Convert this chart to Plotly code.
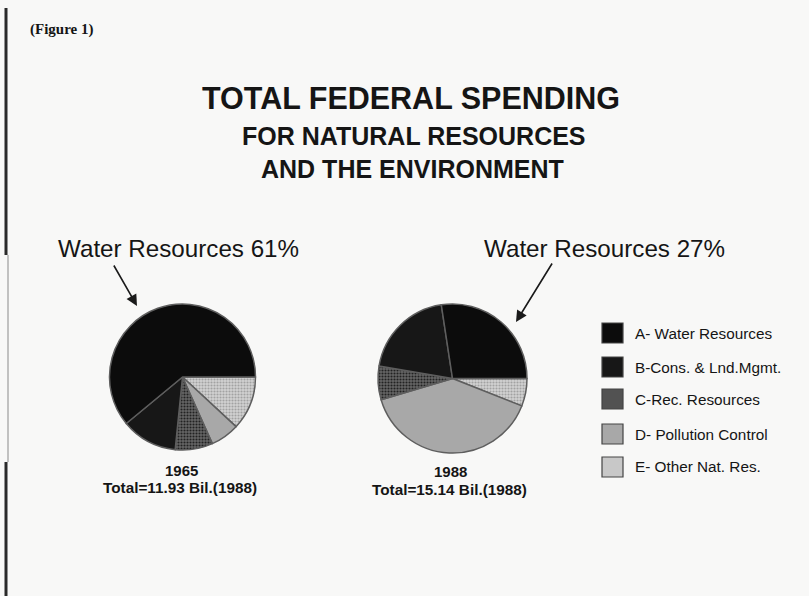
import plotly.graph_objects as go

# ---- data ----
categories = ["A- Water Resources", "B-Cons. & Lnd.Mgmt.", "C-Rec. Resources",
              "D- Pollution Control", "E- Other Nat. Res."]
share_1965 = [61.0, 12.4, 8.3, 6.4, 11.9]
share_1988 = [27.4, 19.9, 7.3, 39.4, 6.0]
years = ["1965", "1988"]
totals = ["Total=11.93 Bil.(1988)", "Total=15.14 Bil.(1988)"]
water_labels = ["Water Resources 61%", "Water Resources 27%"]
slice_colors = ["#0c0c0c", "#171717", "#525252", "#a8a8a8", "#c8c8c8"]
pattern_shapes = ["", "", ".", "", "."]
pattern_fg = ["#0c0c0c", "#171717", "#222222", "#a8a8a8", "#a2a2a2"]
pattern_bg = ["#0c0c0c", "#171717", "#656565", "#a8a8a8", "#d2d2d2"]

W, H = 809, 596
def px(x):
    return x / W
def py(y):
    return 1 - y / H

FONT = "Liberation Sans, Arial, Helvetica, sans-serif"
INK = "#151515"

fig = go.Figure()

# slices drawn clockwise from 3 o'clock in reverse order == counterclockwise A..E
pie_boxes = [((109.5, 255.5), (304, 450)), ((378, 527), (304, 453))]
for vals, (xb, yb) in zip([share_1965, share_1988], pie_boxes):
    fig.add_trace(go.Pie(
        labels=categories[::-1], values=vals[::-1], sort=False,
        direction="clockwise", rotation=90,
        textinfo="none", hoverinfo="label+percent",
        marker=dict(colors=slice_colors[::-1],
                    line=dict(color="#5e5e5e", width=1.5),
                    pattern=dict(shape=pattern_shapes[::-1],
                                 fgcolor=pattern_fg[::-1],
                                 bgcolor=pattern_bg[::-1],
                                 size=3, solidity=0.4, fillmode="replace")),
        domain=dict(x=[px(xb[0]), px(xb[1])], y=[py(yb[1]), py(yb[0])]),
        showlegend=False,
    ))

ann = []
def text(x, y, s, size, bold=False, family=FONT, xanchor="center"):
    ann.append(dict(x=px(x), y=py(y), xref="paper", yref="paper",
                    text=f"<b>{s}</b>" if bold else s, showarrow=False,
                    xanchor=xanchor, yanchor="middle",
                    font=dict(family=family, size=size, color=INK)))

text(28, 30, "(Figure 1)", 15, bold=True,
     family="Liberation Serif, Times New Roman, serif", xanchor="left")
text(411, 98, "TOTAL FEDERAL SPENDING", 30.5, bold=True)
text(414, 136, "FOR NATURAL RESOURCES", 25, bold=True)
text(412, 169, "AND THE ENVIRONMENT", 25, bold=True)

text(178, 248, water_labels[0], 24.2)
text(604.5, 248, water_labels[1], 24.2)

text(181, 470, years[0], 15, bold=True)
text(180, 487, totals[0], 15.3, bold=True)
text(450, 471, years[1], 15, bold=True)
text(449.5, 489, totals[1], 15.3, bold=True)

# arrows
for tip, tail in [((137, 306), (113, 264)), ((516, 322), (553, 262))]:
    ann.append(dict(x=px(tip[0]), y=py(tip[1]), xref="paper", yref="paper",
                    ax=tail[0] - tip[0], ay=tail[1] - tip[1], text="",
                    showarrow=True, arrowhead=2, arrowsize=1.4,
                    arrowwidth=1.6, arrowcolor="#1a1a1a"))

# legend (boxes + labels)
shapes = []
legend_y = [333, 367, 399, 434, 467]
for cat, col, yy in zip(categories, slice_colors, legend_y):
    shapes.append(dict(type="rect", xref="paper", yref="paper",
                       x0=px(602), x1=px(623), y0=py(yy + 10), y1=py(yy - 10),
                       fillcolor=col, line=dict(color="#444444", width=1.2)))
    text(633, yy, cat, 15.3, xanchor="left")

# scanned page edge marks
shapes.append(dict(type="line", xref="paper", yref="paper", x0=px(6), x1=px(6),
                   y0=py(8), y1=py(255), line=dict(color="#2a2a2a", width=3)))
shapes.append(dict(type="line", xref="paper", yref="paper", x0=px(8), x1=px(8),
                   y0=py(255), y1=py(462), line=dict(color="#8a8a8a", width=1)))
shapes.append(dict(type="line", xref="paper", yref="paper", x0=px(6), x1=px(6),
                   y0=py(462), y1=py(596), line=dict(color="#2a2a2a", width=3)))

fig.update_layout(
    width=W, height=H,
    margin=dict(l=0, r=0, t=0, b=0),
    paper_bgcolor="#f8f8f7", plot_bgcolor="#f8f8f7",
    annotations=ann, shapes=shapes,
    font=dict(family=FONT, color=INK),
)

fig.write_html("out.html",
               config={"displayModeBar": False},
               post_script="document.body.style.margin='0';"
                           "document.body.style.overflow='hidden';")
